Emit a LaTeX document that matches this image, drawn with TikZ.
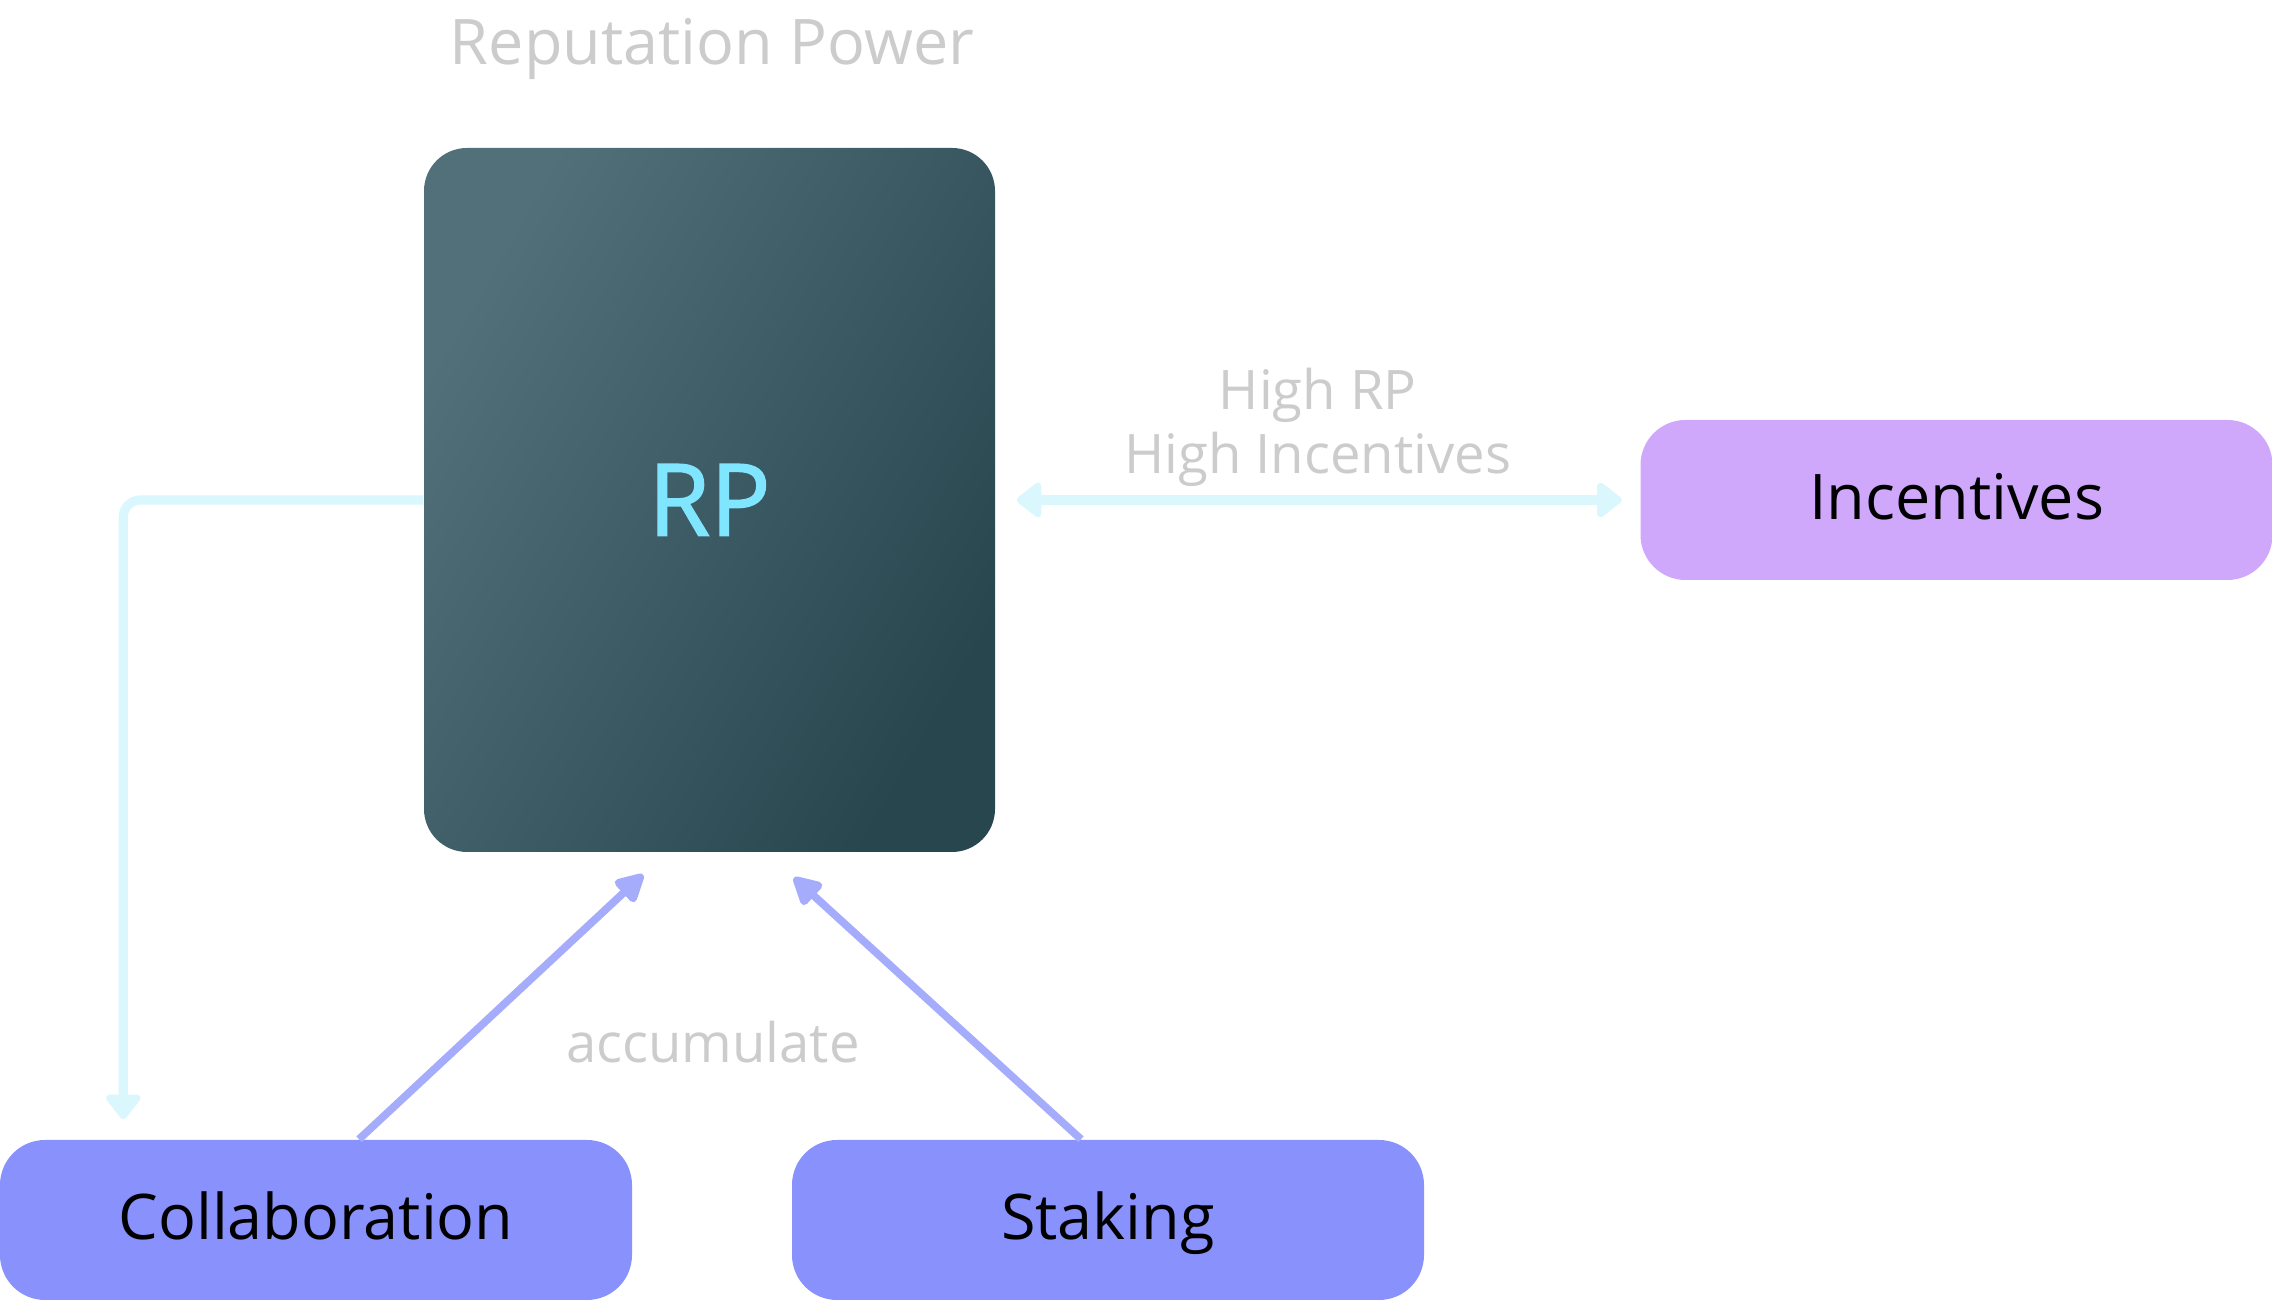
\documentclass[tikz,border=0pt]{standalone}
\usepackage{fontspec}
\setmainfont{Open Sans}
\newfontfamily\rpfont[FakeBold=1.5]{Open Sans}
\usetikzlibrary{arrows.meta}
\definecolor{rplight}{HTML}{52707A}
\definecolor{rpdark}{HTML}{28464E}
\definecolor{rptext}{HTML}{80E6FF}
\definecolor{incfill}{HTML}{CFA8FC}
\definecolor{srcfill}{HTML}{8891FC}
\definecolor{cyanline}{HTML}{D9F7FC}
\definecolor{blueline}{HTML}{A5ACFC}
\definecolor{labelgray}{HTML}{CCCCCC}

\begin{document}
\begin{tikzpicture}[
    box/.style={rectangle, rounded corners=0.45cm, minimum width=6.32cm, minimum height=1.6cm,
      inner sep=0pt, text height=0.45cm, text depth=0.05cm, text=black, font=\fontsize{17.9}{20}\selectfont},
    note/.style={text=labelgray, inner sep=0pt, align=center, font=\fontsize{15.5}{18.2}\selectfont},
    cyanarrow/.style={draw=cyanline, line width=2.6pt, rounded corners=0.17cm,
      -{Triangle[length=0.27cm, width=0.4cm, round]}},
    bluearrow/.style={draw=blueline, line width=2.2pt, -{Triangle[length=0.32cm, width=0.32cm, round]}}
  ]
  \useasboundingbox (0,0) rectangle (22.72,13);

  % 中心方块和标题
  \node[rectangle, rounded corners=0.43cm, minimum width=5.71cm, minimum height=7.04cm, inner sep=0pt,
        top color=rplight, bottom color=rpdark, shading angle=60,
        text=rptext, font=\rpfont\fontsize{28.5}{32}\selectfont] (rp) at (7.095,8.00) {RP};
  \node[note, font=\fontsize{17.9}{22}\selectfont, anchor=base] (title) at (7.12,12.35) {Reputation Power};

  % 其余方块
  \node[box, fill=incfill] (inc) at (19.565,8.00) {Incentives};
  \node[box, fill=srcfill] (collab) at (3.16,0.80) {Collaboration};
  \node[box, fill=srcfill] (staking) at (11.08,0.80) {Staking};

  % 双向箭头
  \draw[cyanarrow, {Triangle[length=0.27cm, width=0.4cm, round]}-{Triangle[length=0.27cm, width=0.4cm, round]},
        shorten <=0.21cm, shorten >=0.18cm] (rp.east) -- node[note, midway, above=0.09cm] (hilabel) {High RP\\High Incentives} (inc.west);

  % 回到 Collaboration
  \draw[cyanarrow, shorten >=0.2cm] (rp.west) -| ([xshift=1.24cm]collab.north west);

  % 累积箭头
  \draw[bluearrow] ([xshift=0.43cm]collab.north) -- ([xshift=-0.665cm, yshift=-0.22cm]rp.south);
  \draw[bluearrow] ([xshift=-0.27cm]staking.north) -- ([xshift=0.845cm, yshift=-0.25cm]rp.south);
  \node[note, anchor=base] (accum) at (7.13,2.37) {accumulate};
\end{tikzpicture}
\end{document}
